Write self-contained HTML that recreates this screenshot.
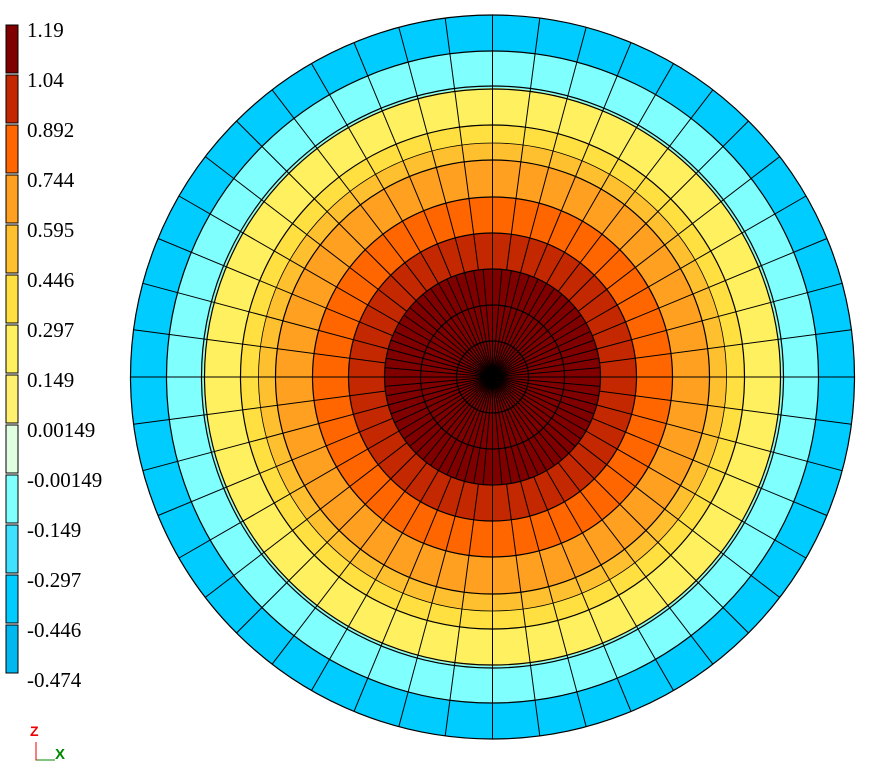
<!DOCTYPE html>
<html><head><meta charset="utf-8"><style>
html,body{margin:0;padding:0;background:#fff;width:876px;height:778px;overflow:hidden}
svg{display:block}
text{font-family:"Liberation Serif",serif;font-size:21px;fill:#000}
</style></head><body>
<svg width="876" height="778" xmlns="http://www.w3.org/2000/svg">
<g stroke="#000" stroke-width="1">
<rect x="6" y="25" width="12" height="48" fill="#800000"/>
<rect x="6" y="75" width="12" height="48" fill="#c42800"/>
<rect x="6" y="125" width="12" height="48" fill="#ff6600"/>
<rect x="6" y="175" width="12" height="48" fill="#ffa020"/>
<rect x="6" y="225" width="12" height="48" fill="#ffc030"/>
<rect x="6" y="275" width="12" height="48" fill="#ffe040"/>
<rect x="6" y="325" width="12" height="48" fill="#fff060"/>
<rect x="6" y="375" width="12" height="48" fill="#fff070"/>
<rect x="6" y="425" width="12" height="48" fill="#e0ffe0"/>
<rect x="6" y="475" width="12" height="48" fill="#80ffff"/>
<rect x="6" y="525" width="12" height="48" fill="#40e0ff"/>
<rect x="6" y="575" width="12" height="48" fill="#00ccff"/>
<rect x="6" y="625" width="12" height="48" fill="#00b8f0"/>
</g>
<text x="27" y="37">1.19</text>
<text x="27" y="87">1.04</text>
<text x="27" y="137">0.892</text>
<text x="27" y="187">0.744</text>
<text x="27" y="237">0.595</text>
<text x="27" y="287">0.446</text>
<text x="27" y="337">0.297</text>
<text x="27" y="387">0.149</text>
<text x="27" y="437">0.00149</text>
<text x="27" y="487">-0.00149</text>
<text x="27" y="537">-0.149</text>
<text x="27" y="587">-0.297</text>
<text x="27" y="637">-0.446</text>
<text x="27" y="687">-0.474</text>
<text x="30" y="736" style="font-family:'Liberation Sans',sans-serif;font-size:14px;font-weight:bold;fill:#e00">Z</text>
<text x="55" y="759" style="font-family:'Liberation Sans',sans-serif;font-size:15px;font-weight:bold;fill:#080">X</text>
<path d="M36 742 V760 H55" stroke="#e00" stroke-width="1" fill="none"/>
<path d="M37 760 H55" stroke="#080" stroke-width="1"/>
<g transform="translate(492.5,377)">
<circle r="362" fill="#00ccff"/>
<circle r="326" fill="#80ffff"/>
<circle r="289" fill="#fff060"/>
<circle r="252" fill="#ffe040"/>
<circle r="234" fill="#ffc030"/>
<circle r="217" fill="#ffa020"/>
<circle r="180" fill="#ff6600"/>
<circle r="144" fill="#c42800"/>
<circle r="108" fill="#800000"/>
<g fill="none" stroke="#000" stroke-width="1.2">
<circle r="362"/><circle r="326"/><circle r="291"/><circle r="288"/><circle r="252"/><circle r="234" stroke-width="0.8"/><circle r="217"/><circle r="180"/><circle r="144"/><circle r="108"/><circle r="72"/><circle r="36"/>
</g>
<g id="s" stroke="#000" stroke-width="1"></g>
<circle r="5" fill="#000"/>
</g>
</svg>
<script>
var g=document.getElementById('s'),h='';
for(var i=0;i<72;i++){var a=i*Math.PI/36;h+='<line x1="0" y1="0" x2="'+(108*Math.cos(a)).toFixed(1)+'" y2="'+(108*Math.sin(a)).toFixed(1)+'"/>';}
for(var i=0;i<48;i++){var a=i*Math.PI/24,c=Math.cos(a),s=Math.sin(a);h+='<line x1="'+(108*c).toFixed(1)+'" y1="'+(108*s).toFixed(1)+'" x2="'+(362*c).toFixed(1)+'" y2="'+(362*s).toFixed(1)+'"/>';}
g.innerHTML=h;
</script>
</body></html>
